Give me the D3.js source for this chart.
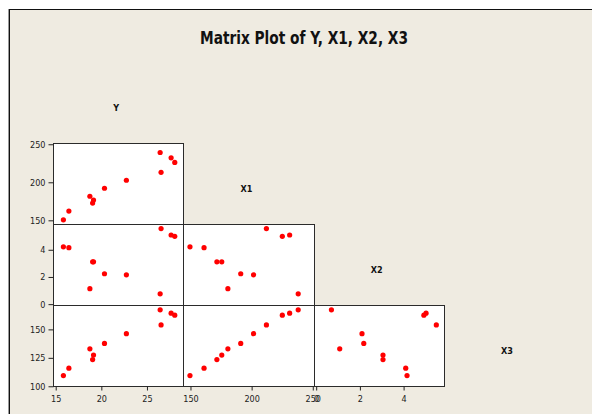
<!DOCTYPE html>
<html>
<head>
<meta charset="utf-8">
<script src="https://cdn.jsdelivr.net/npm/d3@7/dist/d3.min.js"></script>
<style>
  html, body { margin: 0; padding: 0; background: #ffffff; }
  svg { display: block; }
</style>
</head>
<body>
<script>
// ---- data ----
const title = "Matrix Plot of Y, X1, X2, X3";
const variables = ["Y", "X1", "X2", "X3"];
const Y  = [15.9, 16.5, 18.8, 19.1, 19.2, 20.4, 22.8, 26.5, 26.6, 27.7, 28.1];
const X1 = [150, 161.5, 181, 172, 176, 191.5, 202, 238.5, 212.5, 231.5, 225.5];
const X2 = [4.18, 4.12, 1.1, 3.08, 3.08, 2.2, 2.12, 0.72, 5.52, 5.05, 4.95];
const X3 = [109, 115.5, 132.5, 123, 127, 137.2, 145.8, 166.8, 153.5, 163.8, 162.1];
const domainY  = [14.76, 29.03];
const domainX1 = [144.5, 251];
const domainX2 = [-0.1, 5.86];
const domainX3 = [99.8, 171];
const ticksY  = [15, 20, 25];
const ticksX1 = [150, 200, 250];
const ticksX2 = [0, 2, 4];
const ticksX3 = [100, 125, 150];

const series  = [Y, X1, X2, X3];
const domains = [domainY, domainX1, domainX2, domainX3];
const ticks   = [ticksY, ticksX1, ticksX2, ticksX3];

// ---- layout ----
const W = 592, H = 414;
const gridLeft = 53, gridTop = 62, cellW = 130.25, cellH = 81;
const n = variables.length;
const font = "'DejaVu Sans Condensed', 'DejaVu Sans', sans-serif";

const svg = d3.select("body").append("svg")
  .attr("width", W).attr("height", H);

// background panel
svg.append("rect").attr("x", 0).attr("y", 0).attr("width", W).attr("height", H).attr("fill", "#ffffff");
svg.append("rect").attr("x", 9).attr("y", 9).attr("width", W - 9).attr("height", H - 9).attr("fill", "#EFEBE1");
svg.append("line").attr("x1", 8.5).attr("x2", 8.5).attr("y1", 9).attr("y2", H).attr("stroke", "#9a9a9a");
svg.append("line").attr("x1", 9.5).attr("x2", 9.5).attr("y1", 9).attr("y2", H).attr("stroke", "#111");
svg.append("line").attr("x1", 9).attr("x2", W).attr("y1", 9.5).attr("y2", 9.5).attr("stroke", "#111");

// title
svg.append("text")
  .attr("x", 304).attr("y", 44.3)
  .attr("text-anchor", "middle")
  .attr("font-family", font).attr("font-weight", "bold").attr("font-size", 17)
  .attr("textLength", 208).attr("lengthAdjust", "spacingAndGlyphs")
  .attr("fill", "#111")
  .text(title);

// scales per variable
const xScales = series.map((s, k) => d3.scaleLinear().domain(domains[k])
  .range([gridLeft + k * cellW, gridLeft + (k + 1) * cellW]));
const yScales = series.map((s, k) => d3.scaleLinear().domain(domains[k])
  .range([gridTop + (k + 1) * cellH, gridTop + k * cellH]));

// diagonal labels
variables.forEach((v, k) => {
  svg.append("text")
    .attr("x", gridLeft + (k + 0.5) * cellW - 2)
    .attr("y", gridTop + (k + 0.5) * cellH + 8)
    .attr("text-anchor", "middle")
    .attr("font-family", font).attr("font-weight", "bold").attr("font-size", 9)
    .attr("fill", "#111")
    .text(v);
});

// lower-triangle panels
for (let i = 1; i < n; i++) {
  for (let j = 0; j < i; j++) {
    const xs = xScales[j], ys = yScales[i];
    const g = svg.append("g");
    const x0 = Math.round(xs.range()[0]), x1 = Math.round(xs.range()[1]);
    const y0 = Math.round(ys.range()[1]), y1 = Math.round(ys.range()[0]);
    g.append("rect")
      .attr("x", x0 + 0.5).attr("y", y0 + 0.5)
      .attr("width", x1 - x0).attr("height", y1 - y0)
      .attr("fill", "#ffffff").attr("stroke", "#2b2b2b").attr("stroke-width", 1);
    g.selectAll("circle").data(series[j].map((v, k) => [v, series[i][k]]))
      .enter().append("circle")
      .attr("cx", d => xs(d[0])).attr("cy", d => ys(d[1]))
      .attr("r", 2.6).attr("fill", "#ff0000");
  }
}

// axes
const fmt = d3.format("d");
function styleAxis(sel) {
  sel.select(".domain").remove();
  sel.selectAll(".tick line").attr("stroke", "#222");
  sel.selectAll(".tick text").attr("font-family", font).attr("font-size", 9).attr("fill", "#222");
}
for (let i = 1; i < n; i++) {
  const ax = d3.axisLeft(yScales[i]).tickValues(ticks[i]).tickFormat(fmt).tickSize(5).tickPadding(3);
  svg.append("g").attr("transform", `translate(${gridLeft + 0.5},0.5)`).call(ax).call(styleAxis);
}
const bottomY = gridTop + n * cellH;
for (let j = 0; j < n - 1; j++) {
  const ax = d3.axisBottom(xScales[j]).tickValues(ticks[j]).tickFormat(fmt).tickSize(4).tickPadding(5);
  svg.append("g").attr("transform", `translate(0.5,${bottomY + 0.5})`).call(ax).call(styleAxis);
}
</script>
</body>
</html>
